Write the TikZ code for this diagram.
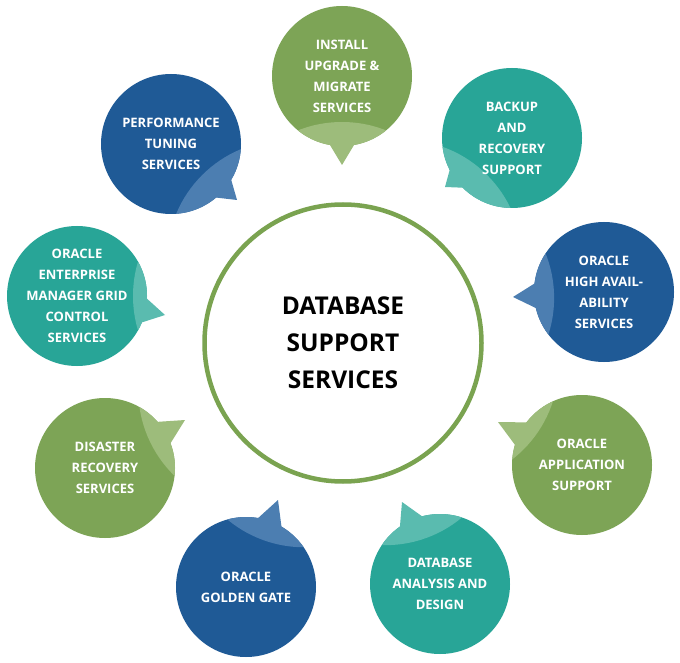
\documentclass[tikz,border=0pt]{standalone}
\usepackage{fontspec}
\setsansfont{Open Sans}
\usetikzlibrary{calc}
\definecolor{dblue}{RGB}{31,90,150}
\definecolor{lblue}{RGB}{76,126,177}
\definecolor{dgreen}{RGB}{125,164,86}
\definecolor{lgreen}{RGB}{157,188,123}
\definecolor{dteal}{RGB}{40,165,151}
\definecolor{lteal}{RGB}{90,187,175}
\definecolor{ringgreen}{RGB}{122,163,80}
\tikzset{
  btext/.style={text=white, font=\sffamily\bfseries\fontsize{13}{21}\selectfont, align=center, inner sep=0pt},
  ctext/.style={text=black, font=\sffamily\bfseries\fontsize{24.5}{37}\selectfont, align=center},
  hubring/.style={circle, draw=ringgreen, line width=4.5pt, minimum size=277pt, inner sep=0pt}
}
\newcommand\bubble[8]{%
  \coordinate (#1-c) at (#2);
  \coordinate (#1-tip) at (#3);
  \fill[#4] (#1-c) circle (70);
  \fill[#5] ($(#1-c)!66pt!13:(#1-tip)$) -- (#1-tip) -- ($(#1-c)!66pt!-13:(#1-tip)$) -- cycle;
  \begin{scope}
    \clip (#1-c) circle (70);
    \fill[#5] ($(#1-c)+(#6:{120+#7})$) circle (120);
  \end{scope}
  \node[btext] (#1) at (#1-c) {#8};
}
\begin{document}
\begin{tikzpicture}[x=1pt,y=-1pt]
\useasboundingbox (0,0) rectangle (680,663);
\fill[white] (0,0) rectangle (680,663);
\node[hubring, ctext] (hub) at (343,343) {DATABASE\\SUPPORT\\SERVICES};
\bubble{perf}{171,144}{237,200}{dblue}{lblue}{45}{44}{PERFORMANCE\\TUNING\\SERVICES}
\bubble{install}{342,76}{342,165}{dgreen}{lgreen}{90}{46}{INSTALL\\UPGRADE \&\\MIGRATE\\SERVICES}
\bubble{backup}{512,138}{445,187}{dteal}{lteal}{132}{44}{BACKUP\\AND\\RECOVERY\\SUPPORT}
\bubble{ha}{604,292}{513,297}{dblue}{lblue}{178}{50}{ORACLE\\HIGH AVAIL-\\ABILITY\\SERVICES}
\bubble{app}{582,465}{498,422}{dgreen}{lgreen}{215}{55}{ORACLE\\APPLICATION\\SUPPORT}
\bubble{dba}{440,584}{402,502}{dteal}{lteal}{251}{48}{DATABASE\\ANALYSIS AND\\DESIGN}
\bubble{gg}{246,587}{278,500}{dblue}{lblue}{290}{50}{ORACLE\\GOLDEN GATE}
\bubble{dr}{105,468}{185,420}{dgreen}{lgreen}{333}{52}{DISASTER\\RECOVERY\\SERVICES}
\bubble{oem}{77,296}{165,315}{dteal}{lteal}{0}{56}{ORACLE\\ENTERPRISE\\MANAGER GRID\\CONTROL\\SERVICES}
\end{tikzpicture}
\end{document}
